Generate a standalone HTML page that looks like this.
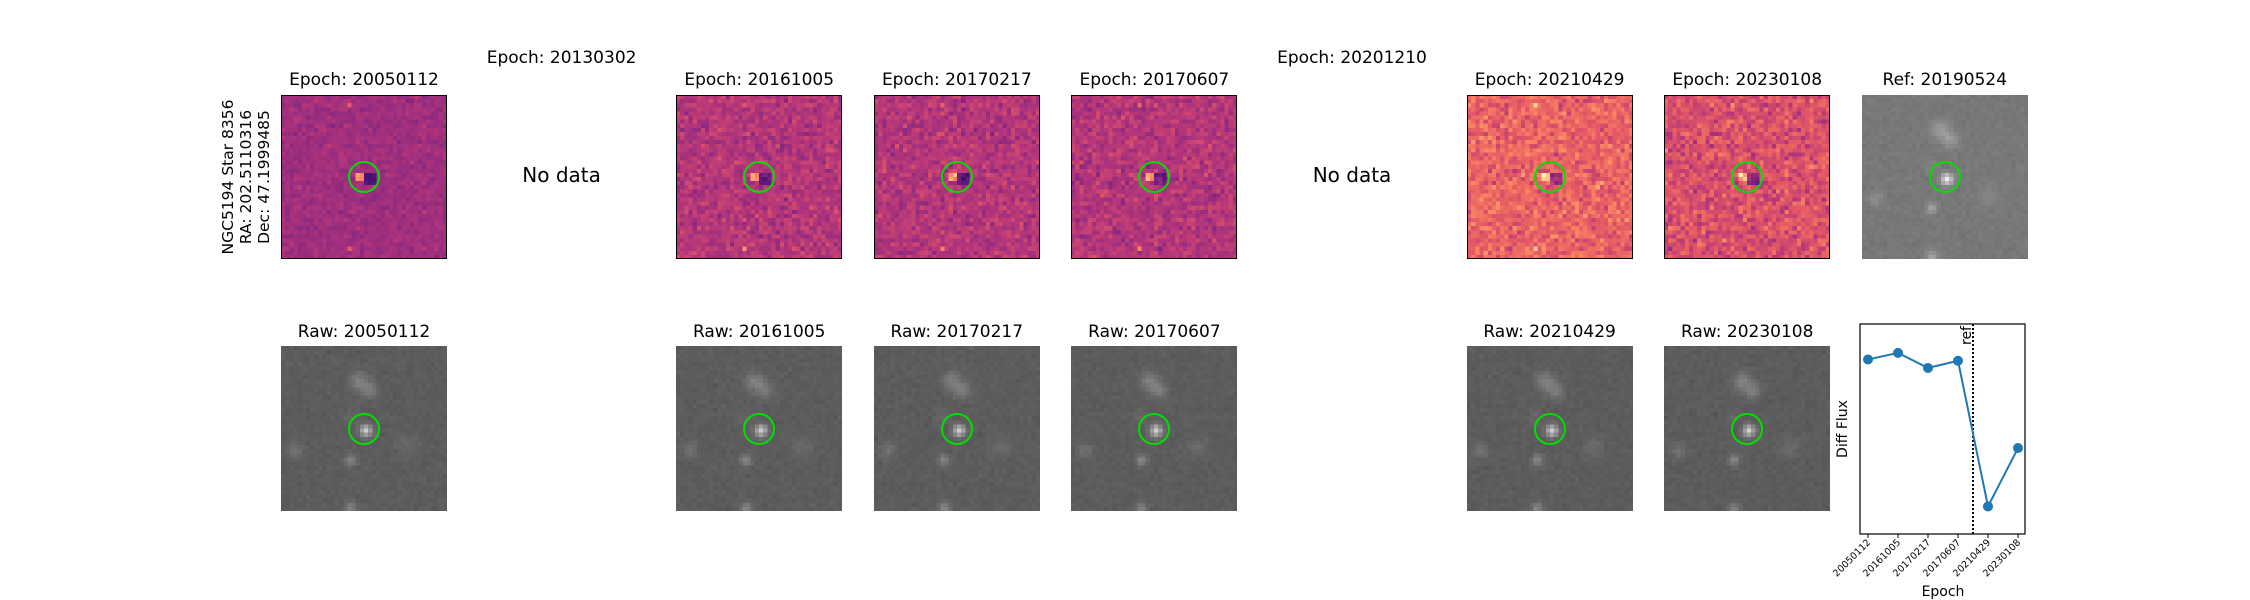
<!DOCTYPE html>
<html><head><meta charset="utf-8">
<style>
body{margin:0;background:#fff;width:2250px;height:600px;overflow:hidden;position:relative;font-family:"DejaVu Sans","Liberation Sans",sans-serif;color:#000}
.t{position:absolute;font-size:17px;white-space:nowrap;transform:translateX(-50%)}
canvas{position:absolute;image-rendering:pixelated}
.box{position:absolute;border:1.5px solid #000;box-sizing:border-box;pointer-events:none}
.circ{position:absolute;width:32px;height:32px;border:2px solid #00e000;border-radius:50%;box-sizing:border-box}
</style></head><body>
<div id="root"></div>
<div style="position:absolute;left:246px;top:177px;transform:translate(-50%,-50%) rotate(-90deg);font-size:15.5px;line-height:18px;text-align:center;white-space:nowrap">NGC5194 Star 8356<br>RA: 202.5110316<br>Dec: 47.1999485</div>
<svg id="lc" width="2250" height="600" style="position:absolute;left:0;top:0;pointer-events:none"></svg>
<script>
const epochs=["20050112","20161005","20170217","20170607","20210429","20230108"];
const flux=[0.73,0.78,0.665,0.72,-0.39,0.055];
const refIndex=3.5;
const cols=[
 {e:"20050112",diff:[0.45,0.035],raw:true},
 {e:"20130302",nodata:true},
 {e:"20161005",diff:[0.5,0.06],raw:true},
 {e:"20170217",diff:[0.5,0.06],raw:true},
 {e:"20170607",diff:[0.5,0.06],raw:true},
 {e:"20201210",nodata:true},
 {e:"20210429",diff:[0.66,0.08],raw:true},
 {e:"20230108",diff:[0.6,0.08],raw:true},
 {e:"ref"}
];
let seed=7;function rnd(){seed=(seed*16807)%2147483647;return seed/2147483647;}
function gauss(){return (rnd()+rnd()+rnd()-1.5)*1.4;}
const mstops=[[0,[0,0,4]],[.13,[28,16,68]],[.25,[79,18,123]],[.38,[129,37,129]],[.5,[181,54,122]],[.63,[229,89,100]],[.75,[251,135,97]],[.88,[254,194,135]],[1,[252,253,191]]];
function magma(t){t=Math.max(0,Math.min(1,t));for(let i=1;i<mstops.length;i++){if(t<=mstops[i][0]){const a=mstops[i-1],b=mstops[i];const f=(t-a[0])/(b[0]-a[0]);return a[1].map((v,k)=>Math.round(v+(b[1][k]-v)*f));}}return mstops[8][1];}
const stars=[[.5,.5,.8,1.0],[.46,.2,.25,1.6],[.52,.26,.22,1.4],[.41,.68,.3,1.0],[.41,.97,.3,1.0],[.07,.62,.15,1.3],[.75,.6,.1,1.8],[.4,.42,.08,1.3]];
const root=document.getElementById('root');
const L=i=>281+i*197.6, W=166;
function add(el){root.appendChild(el);return el;}
function title(txt,x,y,name){const d=document.createElement('div');d.className='t';d.style.left=x+'px';d.style.top=y+'px';d.textContent=txt;


add(d);}
function img(x,y,h,kind,p,name){const c=document.createElement('canvas');c.width=40;c.height=40;c.style.left=x+'px';c.style.top=y+'px';c.style.width=W+'px';c.style.height=h+'px';


const g=c.getContext('2d');const id=g.createImageData(40,40);
for(let j=0;j<40;j++)for(let i=0;i<40;i++){let col;
 if(kind==='diff'){let t=p[0]+gauss()*p[1];
  const dx=i-20,dy=j-20;
  if(dx>=-2&&dx<=-1&&dy>=-1&&dy<=0)t+=0.3;
  if(dx>=0&&dx<=2&&dy>=-1&&dy<=1)t-=0.2;
  if(i===16&&(j===37||j===2))t+=0.2;
  col=magma(t);}
 else{let v=kind==='ref'?0.47:0.36;v+=gauss()*0.015;
  for(const s of stars){const dx=i/40-s[0],dy=j/40-s[1];const r=s[3]/40;v+=s[2]*0.55*Math.exp(-(dx*dx+dy*dy)/(2*r*r));}
  const k=Math.round(Math.min(1,v)*255);col=[k,k,k];}
 const o=(j*40+i)*4;id.data[o]=col[0];id.data[o+1]=col[1];id.data[o+2]=col[2];id.data[o+3]=255;}
g.putImageData(id,0,0);add(c);
if(kind==='diff'){const b=document.createElement('div');b.className='box';b.style.left=x+'px';b.style.top=y+'px';b.style.width=W+'px';b.style.height=h+'px';add(b);}
const ci=document.createElement('div');ci.className='circ';ci.style.left=(x+W/2-16)+'px';ci.style.top=(y+h/2-16)+'px';


add(ci);}
cols.forEach((c,i)=>{const x=L(i);
 if(c.nodata){title('Epoch: '+c.e,x+W/2,48,'epoch-title-'+c.e);
  const d=document.createElement('div');d.className='t';d.style.left=(x+W/2)+'px';d.style.top='163px';d.style.fontSize='20px';d.textContent='No data';
  
  
  add(d);return;}
 if(c.e==='ref'){title('Ref: 20190524',x+W/2,70,'ref-title');img(x,95,164,'ref',null,'ref-image');return;}
 title('Epoch: '+c.e,x+W/2,70,'epoch-title-'+c.e);img(x,95,164,'diff',c.diff,'diff-image-'+c.e);
 title('Raw: '+c.e,x+W/2,322,'raw-title-'+c.e);img(x,346,165,'raw',null,'raw-image-'+c.e);
});
// light curve
const svg=document.getElementById('lc');const NS='http://www.w3.org/2000/svg';
const px0=1860,px1=2025,py0=324,py1=534;
const xs=i=>1868+i*30;
const ymin=-0.6,ymax=1.0;
const ys=v=>py1-(v-ymin)/(ymax-ymin)*(py1-py0);
function el(t,a,name){const e=document.createElementNS(NS,t);for(const k in a)e.setAttribute(k,a[k]);


svg.appendChild(e);return e;}
el('rect',{x:px0,y:py0,width:px1-px0,height:py1-py0,fill:'none',stroke:'#000','stroke-width':1.2},'plot-frame');
el('line',{x1:xs(refIndex),x2:xs(refIndex),y1:py0,y2:py1,stroke:'#000','stroke-width':2,'stroke-dasharray':'2,2'},'ref-line');
const rt=el('text',{x:xs(refIndex)-2,y:py0+2,'font-size':14,'text-anchor':'end',transform:`rotate(-90 ${xs(refIndex)-2} ${py0+2})`},'ref-label');rt.textContent='ref';
el('polyline',{points:flux.map((v,i)=>xs(i)+','+ys(v)).join(' '),fill:'none',stroke:'#1f77b4','stroke-width':2},'flux-line');
flux.forEach((v,i)=>{el('circle',{cx:xs(i),cy:ys(v),r:5,fill:'#1f77b4'},'flux-point');
 el('line',{x1:xs(i),x2:xs(i),y1:py1,y2:py1+4,stroke:'#000'},'x-tick');
 const t=el('text',{x:xs(i)+3,y:py1+9,'font-size':9.5,'text-anchor':'end',transform:`rotate(-45 ${xs(i)+3} ${py1+9})`},'x-tick-label');t.textContent=epochs[i];});
const yl=el('text',{x:1847,y:429,'font-size':14,'text-anchor':'middle',transform:'rotate(-90 1847 429)'},'y-axis-title');yl.textContent='Diff Flux';
const xl=el('text',{x:1943,y:596,'font-size':14,'text-anchor':'middle'},'x-axis-title');xl.textContent='Epoch';
</script>
</body></html>
